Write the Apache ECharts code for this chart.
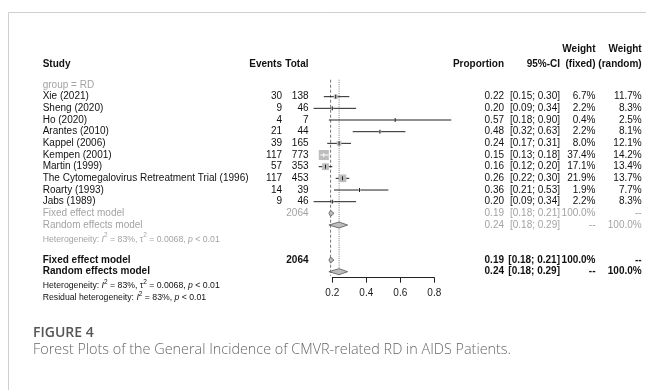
<!DOCTYPE html>
<html><head><meta charset="utf-8">
<script src="https://cdn.jsdelivr.net/npm/echarts@6/dist/echarts.min.js"></script>
<style>html,body{margin:0;padding:0;background:#fff}#c{width:646px;height:390px}</style>
</head><body><div id="c"></div>
<script>
// ---- data ----
const studies = ["Xie (2021)", "Sheng (2020)", "Ho (2020)", "Arantes (2010)", "Kappel (2006)", "Kempen (2001)", "Martin (1999)", "The Cytomegalovirus Retreatment Trial (1996)", "Roarty (1993)", "Jabs (1989)"];
const events = [30, 9, 4, 21, 39, 117, 57, 117, 14, 9];
const totals = [138, 46, 7, 44, 165, 773, 353, 453, 39, 46];
const proportion = [0.22, 0.20, 0.57, 0.48, 0.24, 0.15, 0.16, 0.26, 0.36, 0.20];
const ciLow = [0.15, 0.09, 0.18, 0.32, 0.17, 0.13, 0.12, 0.22, 0.21, 0.09];
const ciHigh = [0.30, 0.34, 0.90, 0.63, 0.31, 0.18, 0.20, 0.30, 0.53, 0.34];
const weightFixed = [6.7, 2.2, 0.4, 2.2, 8.0, 37.4, 17.1, 21.9, 1.9, 2.2];
const weightRandom = [11.7, 8.3, 2.5, 8.1, 12.1, 14.2, 13.4, 13.7, 7.7, 8.3];
const totalN = 2064;
const fixedModel = [0.19, 0.18, 0.21];
const randomModel = [0.24, 0.18, 0.29];
const xTicks = [0.2, 0.4, 0.6, 0.8];

// ---- layout ----
const FONT = '"Liberation Sans", Arial, Helvetica, sans-serif';
const COL = {study: 42.7, events: 282, total: 308.5, prop: 504, ci: 560, wf: 595.5, wr: 641.7};
const GRAY = '#a3a3a3';
const fmt2 = v => v.toFixed(2);
const pct = v => v.toFixed(1) + '%';
const ci = (l, h) => '[' + fmt2(l) + '; ' + fmt2(h) + ']';

function T(x, y, text, o) {
  o = o || {};
  return {type: 'text', silent: true, style: {x: x, y: y, text: text, fill: o.color || '#111',
    fontSize: o.size || 10, fontWeight: o.bold ? 'bold' : 'normal', fontFamily: FONT,
    align: o.align || 'left', verticalAlign: 'middle'}};
}
function hetero(x, y, text, color) {
  const fs = 8.7;
  return {type: 'text', silent: true, style: {x: x, y: y, text: text, fill: color,
    fontSize: fs, fontFamily: FONT, align: 'left', verticalAlign: 'middle',
    rich: {
      n: {fontSize: fs, fontFamily: FONT, fill: color, lineHeight: 12, verticalAlign: 'bottom'},
      i: {fontSize: fs, fontFamily: FONT, fill: color, fontStyle: 'italic', lineHeight: 12, verticalAlign: 'bottom'},
      s: {fontSize: 6.5, fontFamily: FONT, fill: color, lineHeight: 12, verticalAlign: 'top'}
    }}};
}

const studyData = studies.map((s, i) => [proportion[i], i + 1, ciLow[i], ciHigh[i], weightFixed[i], i]);

function renderStudy(params, api) {
  const i = api.value(5);
  const row = api.value(1);
  const pEst = api.coord([api.value(0), row]);
  const pL = api.coord([api.value(2), row]);
  const pH = api.coord([api.value(3), row]);
  const y = pEst[1];
  const side = Math.max(1.2, 10 * Math.sqrt(api.value(4) / 37.4));
  const inside = (pH[0] - pL[0]) < side;
  const children = [
    {type: 'line', shape: {x1: pL[0], y1: y, x2: pH[0], y2: y}, style: {stroke: '#222', lineWidth: 1}},
    {type: 'rect', shape: {x: pEst[0] - side / 2, y: y - side / 2, width: side, height: side}, style: {fill: '#bdbdbd'}},
  ];
  if (inside) {
    children.push({type: 'line', shape: {x1: pL[0], y1: y, x2: pH[0], y2: y}, style: {stroke: '#fff', lineWidth: 1}});
  }
  children.push({type: 'line', shape: {x1: pEst[0], y1: y - 2, x2: pEst[0], y2: y + 2}, style: {stroke: inside ? '#fff' : '#222', lineWidth: 1}});
  children.push(T(COL.study, y, studies[i]));
  children.push(T(COL.events, y, String(events[i]), {align: 'right'}));
  children.push(T(COL.total, y, String(totals[i]), {align: 'right'}));
  children.push(T(COL.prop, y, fmt2(proportion[i]), {align: 'right'}));
  children.push(T(COL.ci, y, ci(ciLow[i], ciHigh[i]), {align: 'right'}));
  children.push(T(COL.wf, y, pct(weightFixed[i]), {align: 'right'}));
  children.push(T(COL.wr, y, pct(weightRandom[i]), {align: 'right'}));
  return {type: 'group', children: children};
}

// model rows: [est, row, low, high, kind(0 fixed,1 random), style(0 gray,1 bold)]
const modelData = [
  [fixedModel[0], 11, fixedModel[1], fixedModel[2], 0, 0],
  [randomModel[0], 12, randomModel[1], randomModel[2], 1, 0],
  [fixedModel[0], 15, fixedModel[1], fixedModel[2], 0, 1],
  [randomModel[0], 16, randomModel[1], randomModel[2], 1, 1]
];
function renderModel(params, api) {
  const row = api.value(1);
  const kind = api.value(4), bold = api.value(5) === 1;
  const pE = api.coord([api.value(0), row]);
  const pL = api.coord([api.value(2), row]);
  const pH = api.coord([api.value(3), row]);
  const y = pE[1], h = 3;
  const color = bold ? '#111' : GRAY;
  const children = [
    {type: 'polygon', shape: {points: [[pL[0], y], [pE[0], y - h], [pH[0], y], [pE[0], y + h]]},
      style: {fill: '#bdbdbd', stroke: '#555', lineWidth: 0.8}}
  ];
  const o = {color: color, bold: bold};
  const oR = {color: color, bold: bold, align: 'right'};
  children.push(T(COL.study, y, kind === 0 ? 'Fixed effect model' : 'Random effects model', o));
  if (kind === 0) children.push(T(COL.total, y, String(totalN), oR));
  children.push(T(COL.prop, y, fmt2(api.value(0)), oR));
  children.push(T(COL.ci, y, ci(api.value(2), api.value(3)), oR));
  children.push(T(COL.wf, y, kind === 0 ? '100.0%' : '--', oR));
  children.push(T(COL.wr, y, kind === 0 ? '--' : '100.0%', oR));
  return {type: 'group', children: children};
}

// reference lines: [value, rowTop, rowBottom, dash]
const refLines = [[fixedModel[0], -0.45, 16.35, 0], [randomModel[0], -0.45, 16.35, 1]];
function renderRef(params, api) {
  const a = api.coord([api.value(0), api.value(1)]);
  const b = api.coord([api.value(0), api.value(2)]);
  return {type: 'line', shape: {x1: a[0], y1: a[1], x2: b[0], y2: b[1]},
    style: {stroke: '#777', lineWidth: 1, lineDash: api.value(3) === 0 ? [3, 2] : [1, 1.2]}};
}

// header + misc texts positioned on rows
const textRows = [
  {row: -3.05, items: [[COL.wf, 'Weight', 'right'], [COL.wr, 'Weight', 'right']], bold: true},
  {row: -1.78, items: [[COL.study, 'Study', 'left'], [COL.events, 'Events', 'right'], [COL.total, 'Total', 'right'],
    [COL.prop, 'Proportion', 'right'], [COL.ci, '95%-CI', 'right'], [COL.wf, '(fixed)', 'right'], [COL.wr, '(random)', 'right']], bold: true},
  {row: 0, items: [[COL.study, 'group = RD', 'left']], color: GRAY}
];
const heteroRows = [
  [13.1, '{n|Heterogeneity: }{i|I}{s|2}{n| = 83%, τ}{s|2}{n| = 0.0068, }{i|p}{n| < 0.01}', GRAY],
  [17.1, '{n|Heterogeneity: }{i|I}{s|2}{n| = 83%, τ}{s|2}{n| = 0.0068, }{i|p}{n| < 0.01}', '#111'],
  [18.1, '{n|Residual heterogeneity: }{i|I}{s|2}{n| = 83%, }{i|p}{n| < 0.01}', '#111']
];
function renderTexts(params, api) {
  const idx = api.value(0);
  const children = [];
  if (idx < textRows.length) {
    const r = textRows[idx];
    const y = api.coord([0.2, r.row])[1];
    r.items.forEach(it => children.push(T(it[0], y, it[1], {align: it[2], bold: r.bold, color: r.color})));
  } else {
    const h = heteroRows[idx - textRows.length];
    const y = api.coord([0.2, h[0]])[1];
    children.push(hetero(COL.study, y, h[1], h[2]));
  }
  return {type: 'group', children: children};
}
const textIdx = [];
for (let k = 0; k < textRows.length + heteroRows.length; k++) textIdx.push([k]);

const chart = echarts.init(document.getElementById('c'), null, {renderer: 'canvas'});
chart.setOption({
  animation: false,
  backgroundColor: '#fff',
  grid: {left: 332.3, right: 211.7, top: 85, bottom: 118.3, containLabel: false},
  xAxis: {type: 'value', min: 0.2, max: 0.8, interval: 0.2, offset: 6, position: 'bottom',
    axisLine: {show: true, onZero: false, lineStyle: {color: '#222', width: 1}},
    axisTick: {show: true, length: 5, lineStyle: {color: '#222'}},
    axisLabel: {color: '#222', fontSize: 10, fontFamily: FONT, margin: 11, formatter: v => v.toFixed(1)},
    splitLine: {show: false}},
  yAxis: {type: 'value', min: 0, max: 16, inverse: true, show: false},
  graphic: [
    {type: 'line', shape: {x1: 8.5, y1: 12.5, x2: 646, y2: 12.5}, style: {stroke: '#cfcfcf', lineWidth: 1}, silent: true},
    {type: 'line', shape: {x1: 8.5, y1: 12.5, x2: 8.5, y2: 390}, style: {stroke: '#cfcfcf', lineWidth: 1}, silent: true},
    {type: 'text', x: 33, y: 333, silent: true, style: {text: 'FIGURE 4', fill: '#555', fontSize: 14, fontWeight: 600, fontFamily: '"Open Sans", sans-serif', verticalAlign: 'middle'}},
    {type: 'text', x: 33, y: 350, silent: true, style: {text: 'Forest Plots of the General Incidence of CMVR-related RD in AIDS Patients.', fill: '#666', fontSize: 14.4, fontWeight: 300, fontFamily: '"Open Sans", sans-serif', verticalAlign: 'middle'}}
  ],
  series: [
    {type: 'custom', data: refLines, renderItem: renderRef, clip: false, silent: true, z: 1},
    {type: 'custom', data: studyData, renderItem: renderStudy, clip: false, silent: true, z: 2},
    {type: 'custom', data: modelData, renderItem: renderModel, clip: false, silent: true, z: 2},
    {type: 'custom', data: textIdx, renderItem: renderTexts, clip: false, silent: true, z: 2}
  ]
});
</script></body></html>
